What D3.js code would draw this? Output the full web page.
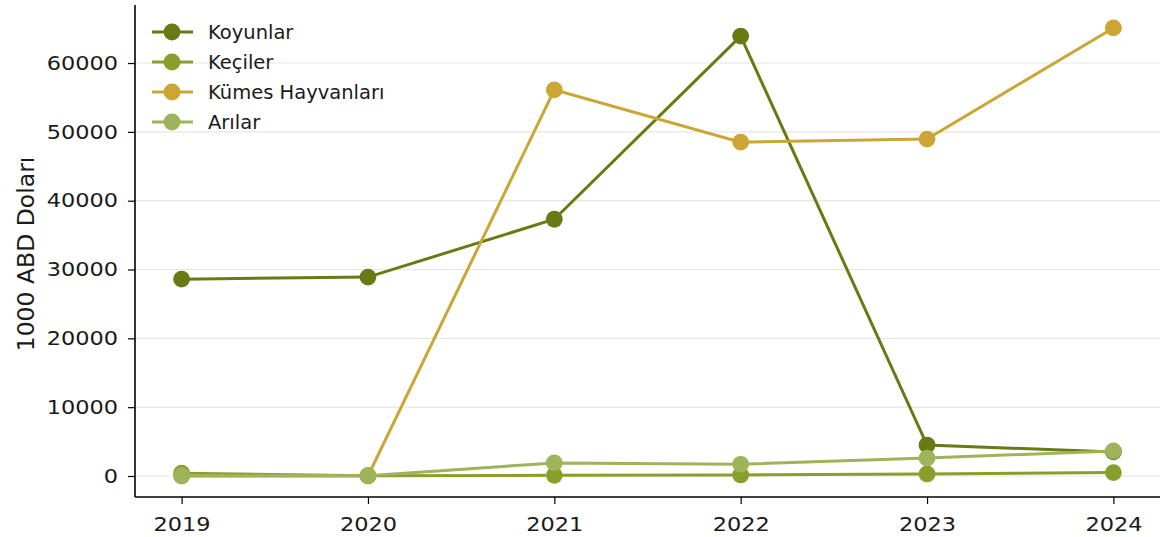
<!DOCTYPE html>
<html><head><meta charset="utf-8">
<script src="https://cdn.jsdelivr.net/npm/d3@7"></script>
<style>body{margin:0;background:#fff}svg{display:block;font-family:"DejaVu Sans",sans-serif}</style>
</head><body><svg id="c" width="1161" height="537"></svg>
<script>
const years = [2019, 2020, 2021, 2022, 2023, 2024];
const seriesNames = ["Koyunlar", "Keçiler", "Kümes Hayvanları", "Arılar"];
const koyunlar = [28600, 28900, 37300, 63900, 4500, 3500];
const keciler = [400, 50, 100, 150, 300, 500];
const kumes = [0, 0, 56100, 48500, 48950, 65100];
const arilar = [50, 50, 1900, 1700, 2600, 3650];
const yTicks = [0, 10000, 20000, 30000, 40000, 50000, 60000];
const colors = ["#687a14", "#8a9e2c", "#cba635", "#9db45a"];
const yLabel = "1000 ABD Doları";

const allSeries = [koyunlar, keciler, kumes, arilar];
const svg = d3.select("#c");
const L = 135, R = 1160, T = 5, B = 497;
const x = d3.scaleLinear().domain([2018.75, 2024.25]).range([L, R]);
const y = d3.scaleLinear().domain([-3050, 68430]).range([B, T]);

// grid
svg.append("g").selectAll("line").data(yTicks).join("line")
  .attr("x1", L).attr("x2", R).attr("y1", d => y(d)).attr("y2", d => y(d))
  .attr("stroke", "#e6e6e6").attr("stroke-width", 1.2);

const line = d3.line().x((d, i) => x(years[i])).y(d => y(d));
allSeries.forEach((s, k) => {
  const g = svg.append("g");
  g.append("path").datum(s).attr("d", line).attr("fill", "none")
    .attr("stroke", colors[k]).attr("stroke-width", 3);
  g.selectAll("circle").data(s).join("circle")
    .attr("cx", (d, i) => x(years[i])).attr("cy", d => y(d)).attr("r", 8.4)
    .attr("fill", colors[k]);
});

// axes
const xa = svg.append("g").attr("transform", `translate(0,${B})`)
  .call(d3.axisBottom(x).tickValues(years).tickFormat(d3.format("d")).tickSize(7).tickPadding(6).tickSizeOuter(0));
const ya = svg.append("g").attr("transform", `translate(${L},0)`)
  .call(d3.axisLeft(y).tickValues(yTicks).tickFormat(d3.format("d")).tickSize(7).tickPadding(6).tickSizeOuter(0));
[xa, ya].forEach(a => {
  a.select(".domain").attr("stroke", "#000").attr("stroke-width", 1.6);
  a.selectAll(".tick line").attr("stroke", "#000").attr("stroke-width", 1.2);
  a.selectAll(".tick text").attr("font-size", 19.5).attr("fill", "#1a1a1a").attr("font-family", "DejaVu Sans");
});
xa.selectAll(".tick text").attr("y", 0).attr("dy", 0).attr("transform", "translate(0,34) scale(1.15,1)");
ya.selectAll(".tick text").attr("x", 0).attr("transform", "translate(-17,0) scale(1.15,1)");
ya.select(".domain").attr("d", `M0,${T}V${B}`);
xa.select(".domain").attr("d", `M${L},0H${R}`);

svg.append("text").attr("transform", `translate(34,${(T + B) / 2 + 3}) rotate(-90)`)
  .attr("text-anchor", "middle").attr("font-size", 23.5).attr("fill", "#1a1a1a").text(yLabel);

// legend
const lg = svg.append("g");
seriesNames.forEach((n, k) => {
  const yy = 32 + k * 30;
  lg.append("line").attr("x1", 152).attr("x2", 193).attr("y1", yy).attr("y2", yy)
    .attr("stroke", colors[k]).attr("stroke-width", 3);
  lg.append("circle").attr("cx", 172).attr("cy", yy).attr("r", 8.4).attr("fill", colors[k]);
  lg.append("text").attr("x", 208).attr("y", yy).attr("dy", "0.36em")
    .attr("font-size", 19.5).attr("fill", "#1a1a1a").text(n);
});
</script></body></html>
